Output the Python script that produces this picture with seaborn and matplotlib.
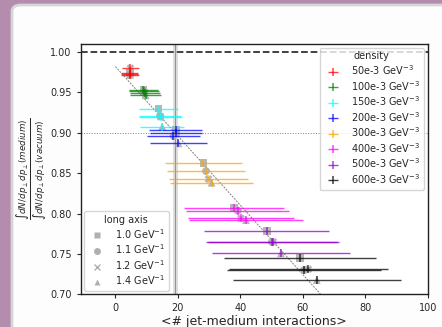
import numpy as np
import pandas as pd
import matplotlib
matplotlib.use("Agg")
import matplotlib.pyplot as plt
import seaborn as sns
from matplotlib.patches import FancyBboxPatch
from matplotlib.lines import Line2D

densities = ["50e-3", "100e-3", "150e-3", "200e-3", "300e-3", "400e-3", "500e-3", "600e-3"]
colors = ["red", "green", "cyan", "blue", "orange", "magenta", "darkviolet", "black"]
long_axes = ["1.0", "1.1", "1.2", "1.4"]
axis_markers = ["s", "o", "X", "^"]

x_50 = [4.6, 4.7, 4.8, 4.7];      y_50 = [0.9740, 0.9725, 0.9800, 0.9715];  e_50 = [2.7, 2.7, 2.7, 2.8]
x_100 = [9.0, 9.2, 9.5, 9.7];     y_100 = [0.9535, 0.9515, 0.9490, 0.9465]; e_100 = [4.6, 4.7, 4.7, 4.9]
x_150 = [13.8, 14.3, 14.5, 15.0]; y_150 = [0.9300, 0.9210, 0.9195, 0.9076]; e_150 = [6.3, 6.7, 6.8, 7.0]
x_200 = [19.3, 18.6, 19.5, 20.2]; y_200 = [0.9030, 0.8960, 0.9000, 0.8870]; e_200 = [8.5, 8.5, 8.3, 9.0]
x_300 = [28.2, 29.0, 29.8, 30.8]; y_300 = [0.8630, 0.8526, 0.8428, 0.8382]; e_300 = [12.2, 12.5, 12.7, 13.3]
x_400 = [38.1, 39.2, 40.2, 41.8]; y_400 = [0.8064, 0.8036, 0.7941, 0.7920]; e_400 = [16.0, 16.5, 17.0, 18.2]
x_500 = [48.5, 50.1, 50.6, 53.0]; y_500 = [0.7788, 0.7647, 0.7650, 0.7507]; e_500 = [20.0, 21.0, 21.0, 22.2]
x_600 = [59.1, 60.4, 61.8, 64.5]; y_600 = [0.7445, 0.7300, 0.7310, 0.7177]; e_600 = [24.3, 24.5, 25.5, 26.9]

fit_intercept = 0.982
fit_slope = -0.00429
ref_x = 19.2

xs = [x_50, x_100, x_150, x_200, x_300, x_400, x_500, x_600]
ys = [y_50, y_100, y_150, y_200, y_300, y_400, y_500, y_600]
es = [e_50, e_100, e_150, e_200, e_300, e_400, e_500, e_600]

rows = []
for d, xv, yv, ev in zip(densities, xs, ys, es):
    for la, xi, yi, ei in zip(long_axes, xv, yv, ev):
        rows.append(dict(density=d, long_axis=la, x=xi, y=yi, xerr=ei))
df = pd.DataFrame(rows)

sns.set_style("ticks")
plt.rcParams["font.family"] = ["DejaVu Sans"]

fig = plt.figure(figsize=(4.42, 3.27), dpi=100)
fig.patch.set_facecolor("#b48dae")
W, H = 442, 327
card = FancyBboxPatch((12 / W, -0.05), 1.1, 1 - 5 / H + 0.05,
                      boxstyle="round,pad=0,rounding_size=0.02",
                      transform=fig.transFigure, facecolor="#fdfdfd",
                      edgecolor="#d6d6d6", linewidth=2.0, zorder=-5)
fig.patches.append(card)

ax = fig.add_axes([0.1826, 0.100, 0.785, 0.7664])
ax.set_zorder(2)
ax.set_facecolor("white")

# reference lines
ax.axhline(1.0, color="#333333", ls="--", lw=1.3, zorder=1)
ax.axhline(0.90, color="gray", ls=":", lw=0.7, zorder=1)
ax.axvspan(ref_x - 0.8, ref_x + 0.8, color="gray", alpha=0.25, lw=0, zorder=1)
ax.axvline(ref_x, color="gray", lw=0.8, alpha=0.8, zorder=1)
xx = np.array([0, 100])
ax.plot(xx, fit_intercept + fit_slope * xx, color="gray", ls="--", lw=0.7,
        dashes=(2, 1.2), zorder=2)

# grey markers for long axis
sns.scatterplot(data=df, x="x", y="y", style="long_axis", markers=dict(zip(long_axes, axis_markers)),
                color="#b0b0b0", s=32, edgecolor="none", alpha=0.9, legend=False, ax=ax, zorder=3)

# coloured error bars per density
handles = []
for d, c in zip(densities, colors):
    sub = df[df.density == d]
    h = ax.errorbar(sub.x, sub.y, xerr=sub.xerr, fmt="|", color=c, ms=6, mew=1.1,
                    elinewidth=1.0, alpha=0.75, zorder=4)
    handles.append(h)

ax.set_xlim(-11.1, 100)
ax.set_ylim(0.70, 1.0103)
ax.set_xticks([0, 20, 40, 60, 80, 100])
ax.set_yticks([0.70, 0.75, 0.80, 0.85, 0.90, 0.95, 1.00])
ax.yaxis.set_major_formatter(matplotlib.ticker.FormatStrFormatter("%.2f"))
ax.tick_params(labelsize=7, length=3, width=0.8)
for s in ax.spines.values():
    s.set_linewidth(1.0)
    s.set_color("#222222")

ax.set_xlabel("<# jet-medium interactions>", fontsize=9, labelpad=1)
ax.set_ylabel(r"$\frac{\int dN/dp_\perp dp_\perp (medium)}{\int dN/dp_\perp dp_\perp (vacuum)}$",
              fontsize=9, labelpad=1)

leg1 = ax.legend(handles, [f"{d} GeV$^{{-3}}$" for d in densities], title="density",
                 loc="upper right", fontsize=7, title_fontsize=7, handlelength=2.0,
                 borderaxespad=0.4, labelspacing=0.18, framealpha=0.8)
ax.add_artist(leg1)

mk_handles = [Line2D([], [], ls="none", marker=m, color="#b0b0b0", ms=5, mec="none")
              for m in ["s", "o", "x", "^"]]
mk_handles[2].set_markeredgecolor("#b0b0b0")
ax.legend(mk_handles, [f"{la} GeV$^{{-1}}$" for la in long_axes], title="long axis",
          loc="lower left", fontsize=7, title_fontsize=7, borderaxespad=0.3,
          labelspacing=0.18, framealpha=0.8)

fig.savefig("out.png", dpi=100, facecolor=fig.get_facecolor())
